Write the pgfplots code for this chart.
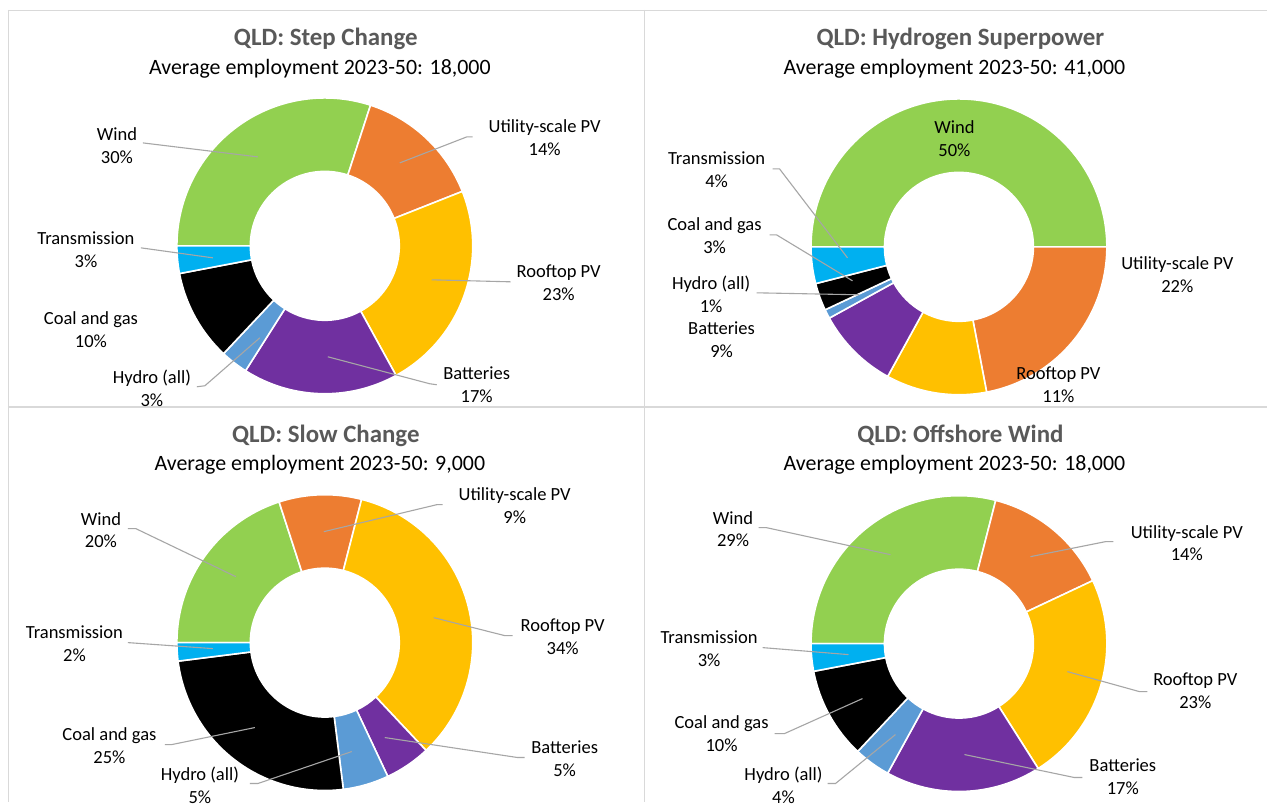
\documentclass[border=0pt]{standalone}
\usepackage{pgfplots}
\usepackage{pgfplotstable}
\pgfplotsset{compat=1.18}
\usepackage{fontspec}
\setmainfont{Carlito}

\definecolor{cwind}{HTML}{92D050}
\definecolor{cupv}{HTML}{ED7D31}
\definecolor{croof}{HTML}{FFC000}
\definecolor{cbat}{HTML}{7030A0}
\definecolor{chyd}{HTML}{5B9BD5}
\definecolor{ccoal}{HTML}{000000}
\definecolor{ctrans}{HTML}{00B0F0}
\definecolor{ctitle}{HTML}{595959}
\definecolor{cgrid}{HTML}{D9D9D9}
\definecolor{cleader}{HTML}{A6A6A6}

% order: clockwise from 9 o'clock
\pgfplotstableread{
pct col
30 cwind
14 cupv
23 croof
17 cbat
3 chyd
10 ccoal
3 ctrans
}\tabstep
\pgfplotstableread{
pct col
50 cwind
22 cupv
11 croof
9 cbat
1 chyd
3 ccoal
4 ctrans
}\tabhydro
\pgfplotstableread{
pct col
20 cwind
9 cupv
34 croof
5 cbat
5 chyd
25 ccoal
2 ctrans
}\tabslow
\pgfplotstableread{
pct col
29 cwind
14 cupv
23 croof
17 cbat
4 chyd
10 ccoal
3 ctrans
}\taboff

\newcommand{\donut}[3]{%
  \pgfplotstablegetrowsof{#3}%
  \pgfmathtruncatemacro\nrows{\pgfplotsretval-1}%
  \gdef\curang{180}%
  \pgfplotsforeachungrouped \i in {0,...,\nrows}{%
    \pgfplotstablegetelem{\i}{pct}\of{#3}\let\slicepct\pgfplotsretval
    \pgfplotstablegetelem{\i}{col}\of{#3}\let\slicecol\pgfplotsretval
    \pgfmathsetmacro\nxt{\curang-3.6*\slicepct}%
    \pgfmathsetmacro\xa{#1+148*cos(\curang)}%
    \pgfmathsetmacro\ya{#2+148*sin(\curang)}%
    \pgfmathsetmacro\xb{#1+74.5*cos(\nxt)}%
    \pgfmathsetmacro\yb{#2+74.5*sin(\nxt)}%
    \edef\temp{\noexpand\fill[\slicecol,draw=white,line width=1.6bp,line join=round] (axis cs:\xa,\ya) arc[start angle=\curang,end angle=\nxt,radius=148bp] -- (axis cs:\xb,\yb) arc[start angle=\nxt,end angle=\curang,radius=74.5bp] -- cycle;}%
    \temp
    \global\let\curang\nxt
  }%
}

\tikzset{
  lab/.style={align=center,inner sep=0pt,text=black,font=\fontsize{18.6}{23}\selectfont},
  ttl/.style={inner sep=0pt,text=ctitle,font=\fontsize{25}{30}\selectfont\bfseries},
  sub/.style={inner sep=0pt,text=black,font=\fontsize{22}{26}\selectfont},
  ldr/.style={cleader,line width=1.1bp},
}

\begin{document}
\begin{tikzpicture}
\begin{axis}[
  x=1bp, y=1bp, scale only axis,
  xmin=0, xmax=1268, ymin=-802, ymax=0,
  hide axis, clip=false,
]
\fill[white] (axis cs:0,-802) rectangle (axis cs:1268,0);
% panel borders
\draw[cgrid,line width=1.5bp] (axis cs:8,-10.5) -- (axis cs:1268,-10.5);
\draw[cgrid,line width=1.5bp] (axis cs:8.5,-10) -- (axis cs:8.5,-802);
\draw[cgrid,line width=1.5bp] (axis cs:645,-10) -- (axis cs:645,-802);
\draw[cgrid,line width=1.5bp] (axis cs:8,-407) -- (axis cs:1268,-407);

% donuts
\donut{325}{-246}{\tabstep}
\donut{959.5}{-247}{\tabhydro}
\donut{325}{-643}{\tabslow}
\donut{959.5}{-644}{\taboff}

% titles
\node[ttl] at (axis cs:326,-39) {QLD: Step Change};
\node[sub] at (axis cs:320,-69) {Average employment 2023-50: 18,000};
\node[ttl] at (axis cs:961,-39) {QLD: Hydrogen Superpower};
\node[sub] at (axis cs:955,-69) {Average employment 2023-50: 41,000};
\node[ttl] at (axis cs:326,-436) {QLD: Slow Change};
\node[sub] at (axis cs:320,-465) {Average employment 2023-50: 9,000};
\node[ttl] at (axis cs:961,-436) {QLD: Offshore Wind};
\node[sub] at (axis cs:955,-465) {Average employment 2023-50: 18,000};

% ---- Step Change labels
\draw[ldr] (axis cs:143,-143) -- (axis cs:258,-157);
\node[lab] at (axis cs:117,-145.5) {Wind\\30\%};
\draw[ldr] (axis cs:141,-248) -- (axis cs:213,-258);
\node[lab] at (axis cs:86,-249.5) {Transmission\\3\%};
\node[lab] at (axis cs:91,-330) {Coal and gas\\10\%};
\draw[ldr] (axis cs:197,-387) -- (axis cs:205,-386) -- (axis cs:260,-338);
\node[lab] at (axis cs:152,-388.5) {Hydro (all)\\3\%};
\draw[ldr] (axis cs:473,-137) -- (axis cs:467,-137) -- (axis cs:400,-163);
\node[lab] at (axis cs:545,-137.5) {Utility-scale PV\\14\%};
\draw[ldr] (axis cs:511,-282) -- (axis cs:432,-280);
\node[lab] at (axis cs:559,-283) {Rooftop PV\\23\%};
\draw[ldr] (axis cs:437,-385) -- (axis cs:430,-384) -- (axis cs:328,-357);
\node[lab] at (axis cs:477,-384.5) {Batteries\\17\%};

% ---- Hydrogen Superpower labels
\node[lab] at (axis cs:955,-139) {Wind\\50\%};
\draw[ldr] (axis cs:773,-169) -- (axis cs:780,-169) -- (axis cs:848,-258);
\node[lab] at (axis cs:717,-170) {Transmission\\4\%};
\draw[ldr] (axis cs:770,-235) -- (axis cs:777,-235) -- (axis cs:853,-281);
\node[lab] at (axis cs:715,-235.5) {Coal and gas\\3\%};
\draw[ldr] (axis cs:757,-293) -- (axis cs:860,-295);
\node[lab] at (axis cs:711.5,-294.5) {Hydro (all)\\1\%};
\node[lab] at (axis cs:722,-340) {Batteries\\9\%};
\node[lab] at (axis cs:1178,-275) {Utility-scale PV\\22\%};
\node[lab] at (axis cs:1059,-385) {Rooftop PV\\11\%};

% ---- Slow Change labels
\draw[ldr] (axis cs:128,-529) -- (axis cs:136,-529) -- (axis cs:236,-577);
\node[lab] at (axis cs:101,-530.5) {Wind\\20\%};
\draw[ldr] (axis cs:128,-643) -- (axis cs:213,-649);
\node[lab] at (axis cs:74.5,-644.5) {Transmission\\2\%};
\draw[ldr] (axis cs:165,-745) -- (axis cs:172,-745) -- (axis cs:255,-728);
\node[lab] at (axis cs:109.5,-746) {Coal and gas\\25\%};
\draw[ldr] (axis cs:250,-784) -- (axis cs:258,-784) -- (axis cs:352,-752);
\node[lab] at (axis cs:200,-786) {Hydro (all)\\5\%};
\draw[ldr] (axis cs:443,-505) -- (axis cs:437,-505) -- (axis cs:324,-532);
\node[lab] at (axis cs:515,-506) {Utility-scale PV\\9\%};
\draw[ldr] (axis cs:513,-636) -- (axis cs:505,-636) -- (axis cs:434,-618);
\node[lab] at (axis cs:563,-637) {Rooftop PV\\34\%};
\draw[ldr] (axis cs:525,-758) -- (axis cs:518,-758) -- (axis cs:385,-738);
\node[lab] at (axis cs:565,-759) {Batteries\\5\%};

% ---- Offshore Wind labels
\draw[ldr] (axis cs:759,-528) -- (axis cs:767,-528) -- (axis cs:891,-555);
\node[lab] at (axis cs:733.5,-529.5) {Wind\\29\%};
\draw[ldr] (axis cs:763,-648) -- (axis cs:849,-655);
\node[lab] at (axis cs:709.5,-649.5) {Transmission\\3\%};
\draw[ldr] (axis cs:775,-734) -- (axis cs:785,-734) -- (axis cs:863,-699);
\node[lab] at (axis cs:722,-734.5) {Coal and gas\\10\%};
\draw[ldr] (axis cs:828,-784) -- (axis cs:836,-784) -- (axis cs:896,-735);
\node[lab] at (axis cs:784,-785.5) {Hydro (all)\\4\%};
\draw[ldr] (axis cs:1114,-542) -- (axis cs:1106,-542) -- (axis cs:1031,-557);
\node[lab] at (axis cs:1187.5,-543.5) {Utility-scale PV\\14\%};
\draw[ldr] (axis cs:1148,-692) -- (axis cs:1140,-692) -- (axis cs:1068,-672);
\node[lab] at (axis cs:1196,-691.5) {Rooftop PV\\23\%};
\draw[ldr] (axis cs:1083,-778) -- (axis cs:1075,-778) -- (axis cs:965,-755);
\node[lab] at (axis cs:1123.5,-777.5) {Batteries\\17\%};
\end{axis}
\end{tikzpicture}
\end{document}
